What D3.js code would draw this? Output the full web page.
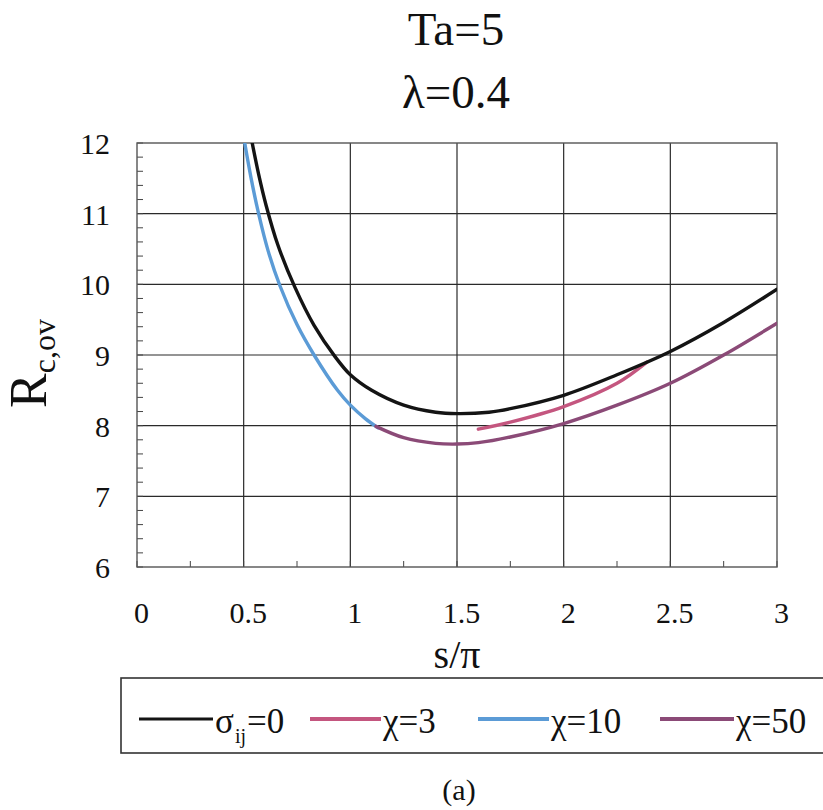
<!DOCTYPE html>
<html>
<head>
<meta charset="utf-8">
<script src="https://cdn.jsdelivr.net/npm/d3@7"></script>
<style>
  html, body { margin: 0; padding: 0; background: #fff; }
  svg text { font-family: "Liberation Serif", "DejaVu Serif", "Times New Roman", serif; fill: #111; }
</style>
</head>
<body>
<svg id="chart" width="823" height="810"></svg>
<script>
// Critical Rayleigh number vs s/pi, Ta = 5, lambda = 0.4
const titleLines = ["Ta=5", "\u03bb=0.4"];
const xTicks = [0, 0.5, 1, 1.5, 2, 2.5, 3];
const yTicks = [6, 7, 8, 9, 10, 11, 12];

// [s/pi, R_c,ov]
const sigmaZero = [[0.54,12.0],[0.57,11.56],[0.605,11.12],[0.66,10.56],[0.74,9.96],[0.83,9.42],[0.93,8.97],[1.0,8.72],[1.1,8.5],[1.25,8.29],[1.4,8.19],[1.5,8.17],[1.65,8.19],[1.75,8.24],[2.0,8.43],[2.25,8.72],[2.5,9.05],[2.75,9.46],[3.0,9.93]];
const chi3 = [[1.6,7.95],[1.75,8.05],[2.0,8.27],[2.25,8.6],[2.39,8.9]];
const chi10 = [[0.505,12.0],[0.535,11.5],[0.57,11.0],[0.615,10.47],[0.67,9.98],[0.75,9.43],[0.83,9.0],[0.94,8.5],[1.0,8.29],[1.07,8.1],[1.13,7.97]];
const chi50 = [[1.12,7.99],[1.25,7.83],[1.4,7.75],[1.5,7.74],[1.6,7.76],[1.75,7.84],[2.0,8.03],[2.25,8.29],[2.5,8.6],[2.75,9.0],[3.0,9.45]];

const seriesData = [sigmaZero, chi3, chi10, chi50];
const seriesColors = ["#141414", "#c4567f", "#5b9bd6", "#8b4a77"];
const legendLabels = ["\u03c3", "\u03c7=3", "\u03c7=10", "\u03c7=50"];

const svg = d3.select("#chart");
const plot = { left: 137, right: 777, top: 143, bottom: 567 };

const x = d3.scaleLinear().domain([0, 3]).range([plot.left, plot.right]);
const y = d3.scaleLinear().domain([6, 12]).range([plot.bottom, plot.top]);

// titles
svg.selectAll("text.title").data(titleLines).enter().append("text")
  .attr("class", "title")
  .attr("x", 456).attr("y", (d, i) => 45 + i * 63)
  .attr("text-anchor", "middle").attr("font-size", 47)
  .text(d => d);

// grid
const g = svg.append("g");
g.selectAll("line.vg").data(xTicks.slice(1, -1)).enter().append("line")
  .attr("x1", d => x(d)).attr("x2", d => x(d))
  .attr("y1", plot.top).attr("y2", plot.bottom)
  .attr("stroke", "#2a2a2a").attr("stroke-width", 1.2);
g.selectAll("line.hg").data(yTicks.slice(1, -1)).enter().append("line")
  .attr("x1", plot.left).attr("x2", plot.right)
  .attr("y1", d => y(d)).attr("y2", d => y(d))
  .attr("stroke", "#2a2a2a").attr("stroke-width", 1.2);

// minor ticks inside the frame
const yMinor = d3.range(6, 12.001, 0.2);
g.selectAll("line.ym").data(yMinor).enter().append("line")
  .attr("x1", plot.left).attr("x2", plot.left + 6)
  .attr("y1", d => y(d)).attr("y2", d => y(d))
  .attr("stroke", "#444").attr("stroke-width", 1);
const xMinor = d3.range(0, 3.001, 0.25);
g.selectAll("line.xm").data(xMinor).enter().append("line")
  .attr("x1", d => x(d)).attr("x2", d => x(d))
  .attr("y1", plot.bottom).attr("y2", plot.bottom - 6)
  .attr("stroke", "#444").attr("stroke-width", 1);

// frame
g.append("rect")
  .attr("x", plot.left).attr("y", plot.top)
  .attr("width", plot.right - plot.left).attr("height", plot.bottom - plot.top)
  .attr("fill", "none").attr("stroke", "#555").attr("stroke-width", 1.4);

// tick labels via d3 axes (domain and tick lines hidden)
const serif = "'Liberation Serif', 'DejaVu Serif', serif";
const xAxis = d3.axisBottom(x).tickValues(xTicks).tickSize(0).tickPadding(0)
  .tickFormat(d => String(d));
const xa = svg.append("g").attr("transform", `translate(4,${623 - 30 * 0.7})`).call(xAxis);
xa.attr("font-family", serif);
xa.select(".domain").remove();
xa.selectAll("text").attr("font-size", 30).attr("fill", "#111").attr("dy", "0.71em");

const yAxis = d3.axisLeft(y).tickValues(yTicks).tickSize(0).tickPadding(0)
  .tickFormat(d => String(d));
const ya = svg.append("g").attr("transform", `translate(110,1)`).call(yAxis);
ya.attr("font-family", serif);
ya.select(".domain").remove();
ya.selectAll("text").attr("font-size", 30).attr("fill", "#111");

// axis titles
svg.append("text").attr("x", 457).attr("y", 668).attr("text-anchor", "middle")
  .attr("font-size", 40).text("s/\u03c0");

const yt = svg.append("text").attr("transform", "translate(46,408) rotate(-90)")
  .attr("font-size", 52);
yt.append("tspan").text("R");
yt.append("tspan").attr("font-size", 32).attr("dy", 9).text("c,ov");

// curves
svg.append("clipPath").attr("id", "clip").append("rect")
  .attr("x", plot.left).attr("y", plot.top)
  .attr("width", plot.right - plot.left).attr("height", plot.bottom - plot.top);

const line = d3.line().x(d => x(d[0])).y(d => y(d[1])).curve(d3.curveCatmullRom.alpha(0.5));
const curves = svg.append("g").attr("clip-path", "url(#clip)");
// colored curves first, black on top
[2, 3, 1, 0].forEach(i => {
  curves.append("path").datum(seriesData[i])
    .attr("d", line).attr("fill", "none")
    .attr("stroke", seriesColors[i]).attr("stroke-width", 3.4)
    .attr("stroke-linecap", "round").attr("stroke-linejoin", "round");
});

// legend
const leg = svg.append("g");
leg.append("rect").attr("x", 121).attr("y", 678).attr("width", 720).attr("height", 75)
  .attr("fill", "none").attr("stroke", "#333").attr("stroke-width", 1.6);
const legX = [139, 310, 478, 660];
const legW = [74, 71, 71, 74];
legendLabels.forEach((lab, i) => {
  leg.append("line").attr("x1", legX[i]).attr("x2", legX[i] + legW[i])
    .attr("y1", 719).attr("y2", 719)
    .attr("stroke", seriesColors[i]).attr("stroke-width", i === 0 ? 3.2 : 4);
  const t = leg.append("text").attr("x", legX[i] + legW[i] + 2).attr("y", 733)
    .attr("font-size", 35);
  if (i === 0) {
    t.append("tspan").text(lab);
    t.append("tspan").attr("font-size", 20).attr("dx", 1).attr("dy", 10).text("ij");
    t.append("tspan").attr("dx", 1).attr("dy", -10).text("=0");
  } else {
    t.text(lab);
  }
});

svg.append("text").attr("x", 459).attr("y", 800).attr("text-anchor", "middle")
  .attr("font-size", 30).text("(a)");
</script>
</body>
</html>
